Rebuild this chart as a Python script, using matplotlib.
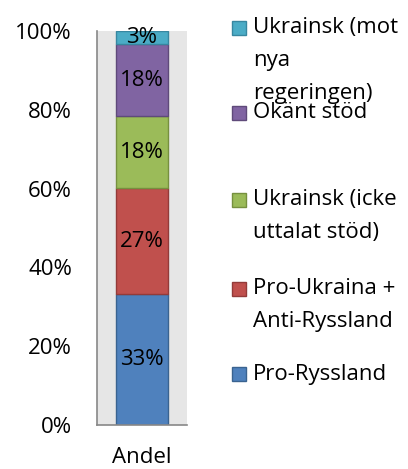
import matplotlib.pyplot as plt
from matplotlib.patches import Rectangle

# Shares of "Andel" (percent), bottom to top
categories = ['Pro-Ryssland', 'Pro-Ukraina +\nAnti-Ryssland', 'Ukrainsk (icke\nuttalat stöd)',
              'Okänt stöd', 'Ukrainsk (mot\nnya\nregeringen)']
values = [33.3, 26.7, 18.3, 18.3, 3.3]
colors = ['#4F81BD', '#C0504D', '#9BBB59', '#8064A2', '#4BACC6']
edges = ['#3A6390', '#933B39', '#76903F', '#5F4A7A', '#3787A0']
xlabel = 'Andel'
ticks = [0, 20, 40, 60, 80, 100]

plt.rcParams['font.family'] = ['Open Sans', 'DejaVu Sans']
FS = 16

fig = plt.figure(figsize=(4.08, 4.69), dpi=100)
ax = fig.add_axes([97 / 408, 44 / 469, 90 / 408, 394 / 469])
ax.set_facecolor('#E6E6E6')

total = sum(values)
bottom = 0
for v, c, e in zip(values, colors, edges):
    h = v / total * 100
    ax.bar(0, h, width=0.58, bottom=bottom, color=c, edgecolor=e, linewidth=1)
    ax.text(0, bottom + h / 2, f'{v:.0f}%', ha='center', va='center', fontsize=FS)
    bottom += h

ax.set_xlim(-0.5, 0.5)
ax.set_ylim(0, 100)
ax.set_yticks(ticks)
ax.set_yticklabels([f'{t}%' for t in ticks], fontsize=FS)
ax.set_xticks([0])
ax.set_xticklabels([xlabel], fontsize=FS)
ax.tick_params(length=0, pad=18)
ax.tick_params(axis='x', pad=16)
for s in ['top', 'right']:
    ax.spines[s].set_visible(False)
for s in ['left', 'bottom']:
    ax.spines[s].set_color('#888888')
    ax.spines[s].set_linewidth(1.2)

# legend drawn by hand (Excel-like wrapped layout), pixel y of each entry
leg_y = [374, 289, 200, 113, 28]
line_gap = 32.5
for lab, c, e, y in zip(categories, colors, edges, leg_y):
    fig.patches.append(Rectangle((232 / 408, 1 - (y + 7) / 469), 14 / 408, 14 / 469,
                                 facecolor=c, edgecolor=e, linewidth=1,
                                 transform=fig.transFigure))
    for i, line in enumerate(lab.split('\n')):
        fig.text(253 / 408, 1 - (y + i * line_gap) / 469, line, fontsize=FS,
                 ha='left', va='center')

fig.savefig('out.png', dpi=100)
